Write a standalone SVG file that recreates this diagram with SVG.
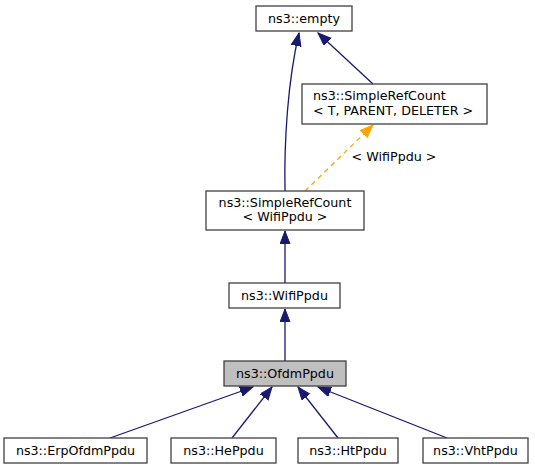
<svg xmlns="http://www.w3.org/2000/svg" width="535" height="469" viewBox="0 0 535 469">
<style>
.box{fill:#ffffff;stroke:#404040;stroke-width:1.3}
.cur{fill:#bfbfbf;stroke:#404040;stroke-width:1.3}
text{font-family:"DejaVu Sans","Liberation Sans",sans-serif;font-size:12.7px;fill:#000000}
.c{text-anchor:middle}
.e{fill:none;stroke:#191970;stroke-width:1.3}
.t{fill:none;stroke:#ffa500;stroke-width:1.3;stroke-dasharray:5,4}
</style>
<defs>
<marker id="ab" markerUnits="userSpaceOnUse" markerWidth="14" markerHeight="12" refX="13" refY="5" orient="auto">
<path d="M0,0 L13,5 L0,10 z" fill="#191970" stroke="#191970" stroke-width="1"/>
</marker>
<marker id="ao" markerUnits="userSpaceOnUse" markerWidth="14" markerHeight="12" refX="13" refY="5" orient="auto">
<path d="M0,0 L13,5 L0,10 z" fill="#ffa500" stroke="#ffa500" stroke-width="1"/>
</marker>
</defs>
<g id="connectors">
<path class="e" d="M285,191 C284,140 288,80 299,33" marker-end="url(#ab)"/>
<path class="e" d="M373,84 L318,33" marker-end="url(#ab)"/>
<path class="t" d="M305,191 L373,125" marker-end="url(#ao)"/>
<text x="394" y="161" class="c">&lt; WifiPpdu &gt;</text>
<path class="e" d="M285,283 L285,231" marker-end="url(#ab)"/>
<path class="e" d="M285,361 L285,309" marker-end="url(#ab)"/>
<path class="e" d="M110,438 L253,387" marker-end="url(#ab)"/>
<path class="e" d="M232,438 L272,387" marker-end="url(#ab)"/>
<path class="e" d="M338,438 L298,387" marker-end="url(#ab)"/>
<path class="e" d="M447,438 L318,387" marker-end="url(#ab)"/>
</g>
<g id="node-empty">
<rect class="box" x="256" y="6" width="96" height="25"/>
<text x="304" y="23" class="c">ns3::empty</text>
</g>
<g id="node-SimpleRefCountT">
<rect class="box" x="302" y="84" width="185" height="40"/>
<text x="313" y="100">ns3::SimpleRefCount</text>
<text x="313" y="115">&lt; T, PARENT, DELETER &gt;</text>
</g>
<g id="node-SimpleRefCountWifiPpdu">
<rect class="box" x="206" y="191" width="158" height="39"/>
<text x="285" y="207" class="c">ns3::SimpleRefCount</text>
<text x="285" y="221" class="c">&lt; WifiPpdu &gt;</text>
</g>
<g id="node-WifiPpdu">
<rect class="box" x="229" y="283" width="111" height="25"/>
<text x="284.5" y="300" class="c">ns3::WifiPpdu</text>
</g>
<g id="node-OfdmPpdu">
<rect class="cur" x="224" y="361" width="122" height="25"/>
<text x="285" y="378" class="c">ns3::OfdmPpdu</text>
</g>
<g id="node-ErpOfdmPpdu">
<rect class="box" x="4" y="438" width="143" height="25"/>
<text x="75.5" y="455" class="c">ns3::ErpOfdmPpdu</text>
</g>
<g id="node-HePpdu">
<rect class="box" x="171" y="438" width="105" height="25"/>
<text x="223.5" y="455" class="c">ns3::HePpdu</text>
</g>
<g id="node-HtPpdu">
<rect class="box" x="298" y="438" width="100" height="25"/>
<text x="348" y="455" class="c">ns3::HtPpdu</text>
</g>
<g id="node-VhtPpdu">
<rect class="box" x="423" y="438" width="105" height="25"/>
<text x="475.5" y="455" class="c">ns3::VhtPpdu</text>
</g>
</svg>
